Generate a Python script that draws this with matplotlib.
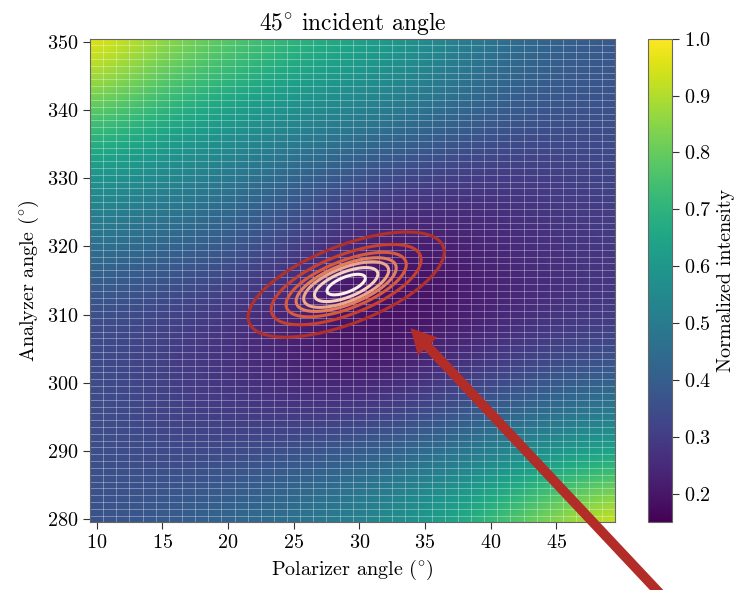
import numpy as np
import matplotlib
matplotlib.use("Agg")
import matplotlib.pyplot as plt
from matplotlib.ticker import MultipleLocator

plt.rcParams.update({
    "font.family": "serif",
    "font.serif": ["cmr10", "DejaVu Serif"],
    "mathtext.fontset": "cm",
    "axes.formatter.use_mathtext": True,
    "font.size": 14.5,
    "axes.unicode_minus": False,
})

# ---- data ----
polarizer_nodes = [10, 15, 20, 25, 30, 35, 40, 45, 50]
analyzer_nodes = [280, 290, 300, 310, 320, 330, 340, 350]
intensity = [
    [0.36, 0.40, 0.44, 0.48, 0.54, 0.62, 0.75, 0.90, 1.00],  # 280
    [0.36, 0.33, 0.33, 0.36, 0.40, 0.44, 0.50, 0.57, 0.63],  # 290
    [0.35, 0.31, 0.27, 0.23, 0.21, 0.26, 0.32, 0.38, 0.41],  # 300
    [0.34, 0.31, 0.27, 0.21, 0.17, 0.18, 0.22, 0.26, 0.28],  # 310
    [0.47, 0.43, 0.39, 0.31, 0.21, 0.19, 0.24, 0.27, 0.29],  # 320
    [0.58, 0.54, 0.49, 0.42, 0.36, 0.31, 0.28, 0.30, 0.33],  # 330
    [0.80, 0.70, 0.63, 0.57, 0.53, 0.48, 0.41, 0.37, 0.36],  # 340
    [1.00, 0.88, 0.80, 0.72, 0.66, 0.58, 0.48, 0.42, 0.38],  # 350
]

# 2D Gaussian fit of the minimum (center, widths, correlation)
fit_x0, fit_y0 = 29.0, 314.4
fit_sx, fit_sy = 3.83, 3.96
fit_rho = 0.62
contour_levels = [0.15, 0.33, 0.49, 0.61, 0.70, 0.82, 0.93]
contour_colors = ["#b0302b", "#c4402f", "#d65a3c", "#e37d5e", "#eea68b", "#f7cfc0", "#fdf1ec"]

arrow_tip = (33.9, 308.0)

xlim = (9.5, 49.5)
ylim = (279.5, 350.5)

# ---- figure ----
fig = plt.figure(figsize=(7.42, 5.9), dpi=100)
ax = fig.add_axes([0.1213, 0.1146, 0.7082, 0.82])
cax = fig.add_axes([0.8733, 0.1146, 0.0323, 0.82])

Z = np.array(intensity)
dx = polarizer_nodes[1] - polarizer_nodes[0]
dy = analyzer_nodes[1] - analyzer_nodes[0]
extent = [polarizer_nodes[0] - dx / 2, polarizer_nodes[-1] + dx / 2,
          analyzer_nodes[0] - dy / 2, analyzer_nodes[-1] + dy / 2]
im = ax.imshow(Z, origin="lower", extent=extent, aspect="auto", cmap="viridis",
               vmin=0.15, vmax=1.0, interpolation="bicubic", zorder=0)
ax.set_xlim(*xlim)
ax.set_ylim(*ylim)

# cell edges
ax.xaxis.set_minor_locator(MultipleLocator(1, offset=0.5))
ax.yaxis.set_minor_locator(MultipleLocator(1, offset=0.5))
ax.grid(which="minor", color="white", alpha=0.33, lw=0.7)
ax.grid(which="major", visible=False)
ax.tick_params(which="minor", length=0)

# Gaussian contours
gx = np.linspace(xlim[0], xlim[1], 500)
gy = np.linspace(ylim[0], ylim[1], 500)
GX, GY = np.meshgrid(gx, gy)
u = (GX - fit_x0) / fit_sx
v = (GY - fit_y0) / fit_sy
G = np.exp(-0.5 * (u**2 - 2 * fit_rho * u * v + v**2) / (1 - fit_rho**2))
ax.contour(GX, GY, G, levels=contour_levels, colors=contour_colors, linewidths=2.2, zorder=3)

# arrow
ax.annotate("", xy=arrow_tip, xycoords="data", xytext=(666, -10), textcoords="figure pixels",
            arrowprops=dict(width=7, headwidth=19, headlength=18, facecolor="#b22c28",
                            edgecolor="none", shrink=0),
            annotation_clip=False, zorder=5)

ax.set_xticks([10, 15, 20, 25, 30, 35, 40, 45])
ax.set_yticks([280, 290, 300, 310, 320, 330, 340, 350])
ax.set_xlabel(r"Polarizer angle ($^{\circ}$)", fontsize=14.5)
ax.set_ylabel(r"Analyzer angle ($^{\circ}$)", fontsize=14.5)
ax.set_title(r"45$^{\circ}$ incident angle", fontsize=17, pad=6)
for s in ax.spines.values():
    s.set_color("#666666")
ax.tick_params(which="major", direction="out", length=5, color="#333333", labelsize=14.5)

cb = fig.colorbar(im, cax=cax)
cb.set_ticks([0.2, 0.3, 0.4, 0.5, 0.6, 0.7, 0.8, 0.9, 1.0])
cb.set_label("Normalized intensity", fontsize=14.5)
cb.outline.set_edgecolor("#666666")
cax.tick_params(length=5, color="#333333", labelsize=14.5)

fig.savefig("out.png", dpi=100)
